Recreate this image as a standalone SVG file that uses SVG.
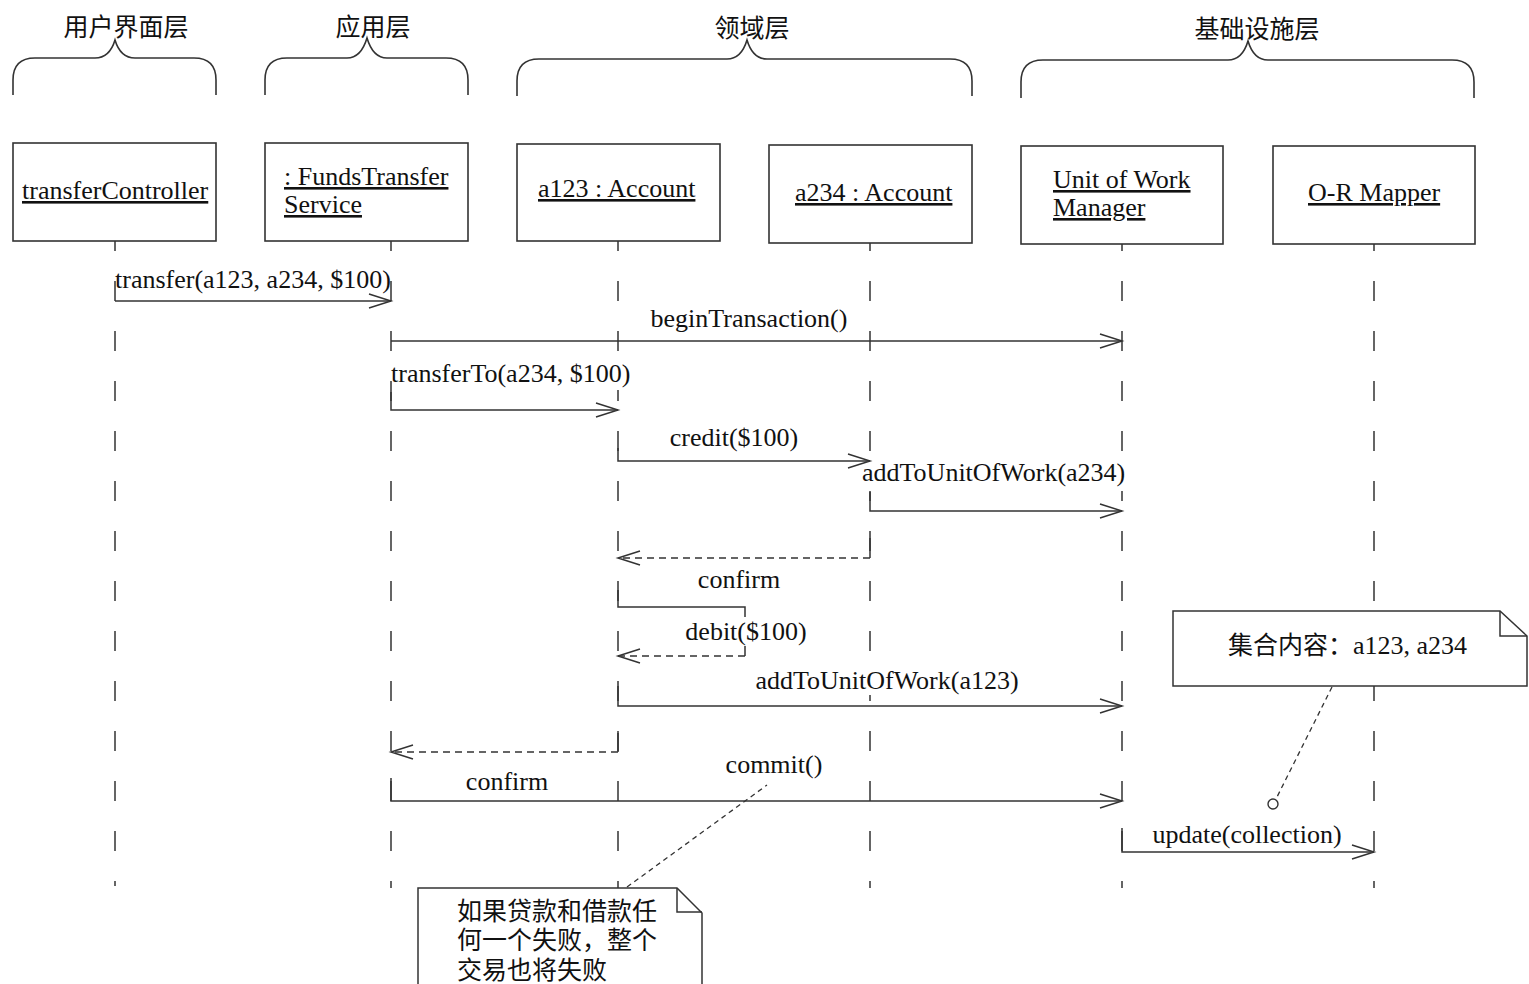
<svg xmlns="http://www.w3.org/2000/svg" width="1529" height="984" viewBox="0 0 1529 984">
<defs>
<style>
.bg{fill:#fff}
.brace{fill:none;stroke:#333;stroke-width:1.6}
.box{fill:#fff;stroke:#333;stroke-width:1.6}
.life{fill:none;stroke:#333;stroke-width:1.5;stroke-dasharray:20 30}
.msg{fill:none;stroke:#333;stroke-width:1.5}
.ret{fill:none;stroke:#333;stroke-width:1.5;stroke-dasharray:7 5}
.anchor{fill:none;stroke:#333;stroke-width:1.3;stroke-dasharray:5 4}
.note{fill:#fff;stroke:#333;stroke-width:1.5}
.knock{fill:#fff;stroke:none}
.t{font-family:"Liberation Serif","Noto Sans CJK SC",serif;font-size:26px;fill:#111}
.u{text-decoration:underline}
.cjk{font-family:"Liberation Serif","Noto Sans CJK SC",sans-serif;font-size:25px;fill:#111}
.mid{text-anchor:middle}
</style>
<marker id="arr" markerUnits="userSpaceOnUse" markerWidth="26" markerHeight="18" refX="23" refY="8" orient="auto">
<path d="M1,1 L23,8 L1,15" fill="none" stroke="#333" stroke-width="1.5"/>
</marker>
</defs>
<rect class="bg" x="0" y="0" width="1529" height="984"/>

<g id="layers">
<g id="layer-ui">
<text class="cjk mid" x="126" y="36">用户界面层</text>
<path class="brace" d="M13,95 L13,80 Q13,58 35,58 L95,58 C107,58 112,50 115,40 C118,50 123,58 135,58 L194,58 Q216,58 216,80 L216,95"/>
</g>
<g id="layer-app">
<text class="cjk mid" x="373" y="36">应用层</text>
<path class="brace" d="M265,95 L265,80 Q265,58 287,58 L347,58 C359,58 364,48 367,38 C370,48 375,58 387,58 L446,58 Q468,58 468,80 L468,95"/>
</g>
<g id="layer-domain">
<text class="cjk mid" x="752" y="37">领域层</text>
<path class="brace" d="M517,96 L517,81 Q517,59 539,59 L727,59 C739,59 744,50 747,40 C750,50 755,59 767,59 L950,59 Q972,59 972,81 L972,96"/>
</g>
<g id="layer-infra">
<text class="cjk mid" x="1257" y="38">基础设施层</text>
<path class="brace" d="M1021,98 L1021,82 Q1021,60 1043,60 L1228,60 C1240,60 1245,51 1248,41 C1251,51 1256,60 1268,60 L1452,60 Q1474,60 1474,82 L1474,98"/>
</g>
</g>

<g id="lifelines">
<path class="life" style="stroke-dashoffset:10" d="M115,241 V886"/>
<path class="life" style="stroke-dashoffset:10" d="M391,241 V888"/>
<path class="life" style="stroke-dashoffset:10" d="M618,241 V888"/>
<path class="life" style="stroke-dashoffset:12" d="M870,243 V888"/>
<path class="life" style="stroke-dashoffset:13" d="M1122,244 V888"/>
<path class="life" style="stroke-dashoffset:13" d="M1374,244 V888"/>
</g>

<g id="node-transferController">
<rect class="box" x="13" y="143" width="203" height="98"/>
<text class="t u" x="22" y="199">transferController</text>
</g>
<g id="node-fundsTransferService">
<rect class="box" x="265" y="143" width="203" height="98"/>
<text class="t u" x="284" y="185">: FundsTransfer</text>
<text class="t u" x="284" y="213">Service</text>
</g>
<g id="node-a123">
<rect class="box" x="517" y="144" width="203" height="97"/>
<text class="t u" x="538" y="197">a123 : Account</text>
</g>
<g id="node-a234">
<rect class="box" x="769" y="145" width="203" height="98"/>
<text class="t u" x="795" y="201">a234 : Account</text>
</g>
<g id="node-unitOfWorkManager">
<rect class="box" x="1021" y="146" width="202" height="98"/>
<text class="t u" x="1053" y="188">Unit of Work</text>
<text class="t u" x="1053" y="216">Manager</text>
</g>
<g id="node-orMapper">
<rect class="box" x="1273" y="146" width="202" height="98"/>
<text class="t u" x="1308" y="201">O-R Mapper</text>
</g>

<g id="connectors">
<path class="msg" d="M115,301 H391" marker-end="url(#arr)"/>
<path class="msg" d="M391,341 H1122" marker-end="url(#arr)"/>
<path class="msg" d="M391,392 V410 H618" marker-end="url(#arr)"/>
<path class="msg" d="M618,448 V461 H870" marker-end="url(#arr)"/>
<path class="msg" d="M870,492 V511 H1122" marker-end="url(#arr)"/>
<path class="msg" d="M870,538 V558"/>
<path class="ret" d="M870,558 H618" marker-end="url(#arr)"/>
<path class="msg" d="M618,590 V607 H745 V656"/>
<path class="ret" d="M745,656 H618" marker-end="url(#arr)"/>
<path class="msg" d="M618,686 V706 H1122" marker-end="url(#arr)"/>
<path class="msg" d="M618,733 V752"/>
<path class="ret" d="M618,752 H391" marker-end="url(#arr)"/>
<path class="msg" d="M391,778 V801 H1122" marker-end="url(#arr)"/>
<path class="msg" d="M1122,828 V852 H1374" marker-end="url(#arr)"/>
<path class="anchor" d="M627,887 L767,785"/>
<path class="anchor" d="M1332,687 L1276,799"/>
<circle cx="1273" cy="804" r="5" fill="#fff" stroke="#333" stroke-width="1.4"/>
</g>

<g id="labels">
<rect class="knock" x="610" y="360" width="22" height="30"/>
<rect class="knock" x="862" y="467" width="14" height="24"/>
<rect class="knock" x="1114" y="467" width="14" height="24"/>
<rect class="knock" x="684" y="617" width="124" height="29"/>
<rect class="knock" x="862" y="666" width="16" height="29"/>
<text class="t" x="115" y="288">transfer(a123, a234, $100)</text>
<text class="t mid" x="749" y="327">beginTransaction()</text>
<text class="t" x="391" y="382">transferTo(a234, $100)</text>
<text class="t mid" x="734" y="446">credit($100)</text>
<text class="t" x="862" y="481">addToUnitOfWork(a234)</text>
<text class="t mid" x="739" y="588">confirm</text>
<text class="t mid" x="746" y="640">debit($100)</text>
<text class="t mid" x="887" y="689">addToUnitOfWork(a123)</text>
<text class="t mid" x="774" y="773">commit()</text>
<text class="t mid" x="507" y="790">confirm</text>
<text class="t mid" x="1247" y="843">update(collection)</text>
</g>

<g id="note-collection">
<path class="note" d="M1173,611 H1500 L1527,636 V686 H1173 Z"/>
<path class="msg" d="M1500,611 V636 H1527"/>
<text class="cjk" x="1228" y="654">集合内容：<tspan style="font-size:26px">a123, a234</tspan></text>
</g>

<g id="note-transaction">
<path class="note" d="M418,888 H677 L702,913 V990 H418 Z"/>
<path class="msg" d="M677,888 V912 H702"/>
<text class="cjk" x="457" y="920">如果贷款和借款任</text>
<text class="cjk" x="457" y="949">何一个失败，整个</text>
<text class="cjk" x="457" y="979">交易也将失败</text>
</g>
</svg>
